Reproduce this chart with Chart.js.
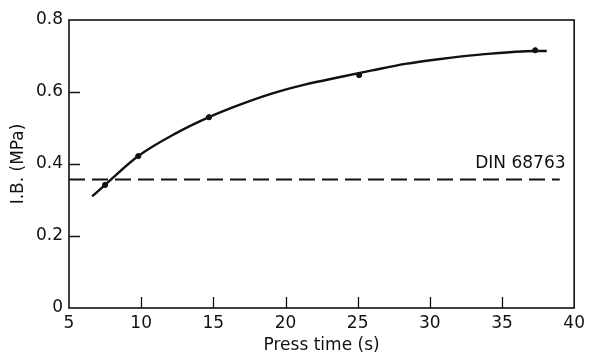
<!DOCTYPE html>
<html>
<head>
<meta charset="utf-8">
<script src="https://cdn.jsdelivr.net/npm/chart.js@4.4.1/dist/chart.umd.min.js"></script>
<style>
  body { margin: 0; background: #fff; }
  #wrap { width: 590px; height: 356px; }
</style>
</head>
<body>
<div id="wrap"><canvas id="myChart" width="590" height="356"></canvas></div>
<script>
// fitted curve
const curveX = [6.6, 7.5, 9.8, 12.4, 14.7, 16.8, 19.1, 21.4, 23.7, 26, 28.3, 30.6, 33.3, 37.3, 38.1];
const curveY = [0.31, 0.342, 0.422, 0.485, 0.53, 0.564, 0.596, 0.621, 0.641, 0.66, 0.678, 0.691, 0.703, 0.714, 0.714];

// measured points
const pointX = [7.5, 9.8, 14.7, 25.1, 37.3];
const pointY = [0.342, 0.422, 0.53, 0.647, 0.716];

// DIN 68763 requirement
const dinLevel = 0.357;
const dinRange = [5, 39];
const dinLabel = 'DIN 68763';

const xTicks = [5, 10, 15, 20, 25, 30, 35, 40];
const yTicks = [0, 0.2, 0.4, 0.6, 0.8];

const font = { family: 'DejaVu Sans', size: 17 };

const frame = {
  id: 'frame',
  beforeDraw(chart) {
    const c = chart.ctx;
    c.save();
    c.fillStyle = '#fff';
    c.fillRect(0, 0, chart.width, chart.height);
    c.restore();
  },
  afterDraw(chart) {
    const c = chart.ctx;
    const a = chart.chartArea;
    const xs = chart.scales.x, ys = chart.scales.y;
    c.save();
    c.strokeStyle = '#111';
    c.lineWidth = 1.6;
    c.strokeRect(a.left, a.top, a.right - a.left, a.bottom - a.top);
    // inward ticks on bottom and left
    c.lineWidth = 1.3;
    c.beginPath();
    xTicks.slice(1, -1).forEach(v => {
      const px = Math.round(xs.getPixelForValue(v)) + 0.5;
      c.moveTo(px, a.bottom);
      c.lineTo(px, a.bottom - 11);
    });
    yTicks.slice(1, -1).forEach(v => {
      const py = Math.round(ys.getPixelForValue(v)) + 0.5;
      c.moveTo(a.left, py);
      c.lineTo(a.left + 11, py);
    });
    c.stroke();
    // label over dashed line
    c.fillStyle = '#111';
    c.font = font.size + 'px ' + font.family;
    c.textAlign = 'right';
    c.textBaseline = 'alphabetic';
    c.fillText(dinLabel, xs.getPixelForValue(39.4), ys.getPixelForValue(dinLevel) - 11);
    c.restore();
  }
};

new Chart(document.getElementById('myChart').getContext('2d'), {
  type: 'scatter',
  data: {
    datasets: [
      {
        type: 'line',
        data: curveX.map((x, i) => ({ x: x, y: curveY[i] })),
        borderColor: '#111',
        borderWidth: 2.4,
        pointRadius: 0,
        cubicInterpolationMode: 'monotone',
        fill: false
      },
      {
        data: pointX.map((x, i) => ({ x: x, y: pointY[i] })),
        backgroundColor: '#111',
        borderColor: '#111',
        pointRadius: 2.6,
        pointHoverRadius: 2.6
      },
      {
        type: 'line',
        data: dinRange.map(x => ({ x: x, y: dinLevel })),
        borderColor: '#111',
        borderWidth: 2.2,
        borderDash: [16, 7],
        pointRadius: 0,
        fill: false
      }
    ]
  },
  options: {
    responsive: false,
    animation: false,
    layout: { padding: { top: 20, right: 13, left: 0, bottom: 0 } },
    plugins: { legend: { display: false }, tooltip: { enabled: false } },
    scales: {
      x: {
        type: 'linear',
        min: 5,
        max: 40,
        afterBuildTicks: s => { s.ticks = xTicks.map(v => ({ value: v })); },
        afterFit: s => { s.height = 48; },
        grid: { display: false, drawTicks: false },
        border: { display: false },
        ticks: { color: '#111', font: font, padding: 5, maxRotation: 0 },
        title: { display: true, text: 'Press time (s)', color: '#111', font: font, padding: { top: 0, bottom: 0 } }
      },
      y: {
        min: 0,
        max: 0.8,
        afterBuildTicks: s => { s.ticks = yTicks.map(v => ({ value: v })); },
        afterFit: s => { s.width = 69; },
        grid: { display: false, drawTicks: false },
        border: { display: false },
        ticks: { color: '#111', font: font, padding: 6 },
        title: { display: true, text: 'I.B. (MPa)', color: '#111', font: font, padding: { top: 8, bottom: 0 } }
      }
    }
  },
  plugins: [frame]
});
</script>
</body>
</html>
